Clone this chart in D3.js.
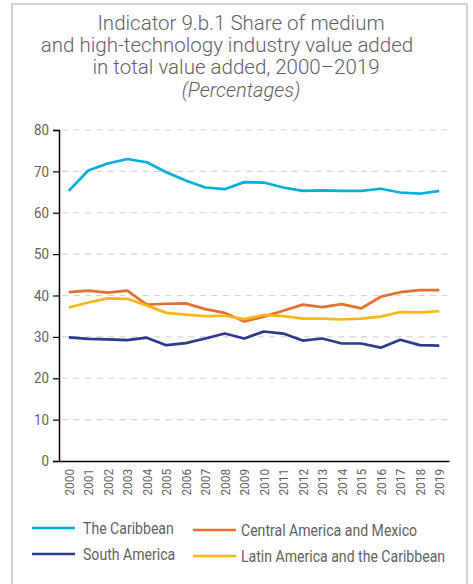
<!DOCTYPE html>
<html>
<head>
<meta charset="utf-8">
<script src="https://cdn.jsdelivr.net/npm/d3@7"></script>
<style>
  body { margin: 0; background: #fff; }
  svg text { font-family: "Roboto", sans-serif; fill: #5f5f5f; }
</style>
</head>
<body>
<div id="chart-area"></div>
<script>
// data
var years = ["2000","2001","2002","2003","2004","2005","2006","2007","2008","2009",
             "2010","2011","2012","2013","2014","2015","2016","2017","2018","2019"];
var caribbean = [65.3,70.2,71.9,73.0,72.2,69.8,67.8,66.1,65.7,67.4,67.3,66.1,65.3,65.4,65.3,65.3,65.8,64.9,64.6,65.3];
var centralAm = [40.8,41.2,40.7,41.2,37.8,38.0,38.1,36.7,35.8,33.7,34.9,36.3,37.8,37.2,37.9,36.9,39.7,40.8,41.3,41.3];
var southAm   = [29.9,29.5,29.4,29.2,29.8,28.0,28.5,29.6,30.8,29.6,31.3,30.8,29.1,29.6,28.4,28.4,27.4,29.3,28.0,27.9];
var latAm     = [37.1,38.3,39.3,39.2,37.6,35.8,35.4,35.0,35.1,34.3,35.3,35.0,34.4,34.4,34.2,34.4,34.9,36.0,35.9,36.2];
var yTicks = [0,10,20,30,40,50,60,70,80];
var titleLines = ["Indicator 9.b.1 Share of medium",
                  "and high-technology industry value added",
                  "in total value added, 2000\u20132019"];
var subtitle = "(Percentages)";

var seriesNames = ["The Caribbean","Central America and Mexico","South America","Latin America and the Caribbean"];
var seriesVals = [caribbean, centralAm, southAm, latAm];
var colors = ["#00AEDB","#E2702E","#2B3990","#FDB515"];

var width = 473, height = 584;

var svg = d3.select("#chart-area").append("svg")
    .attr("width", width)
    .attr("height", height);

// frame
svg.append("rect")
    .attr("x", 12).attr("y", 4)
    .attr("width", 455).attr("height", 600)
    .attr("fill", "none")
    .attr("stroke", "#c4c4c4")
    .attr("stroke-width", 1.5);

// title
var titleX = [241, 227, 236];
svg.selectAll(".title")
    .data(titleLines)
    .enter()
    .append("text")
    .attr("x", (d, i) => titleX[i])
    .attr("y", (d, i) => 30 + i * 21.8)
    .attr("text-anchor", "middle")
    .style("font-size", "20.5px")
    .style("font-weight", 300)
    .text(d => d);

svg.append("text")
    .attr("x", 241)
    .attr("y", 97)
    .attr("text-anchor", "middle")
    .style("font-size", "20px")
    .style("font-weight", 300)
    .style("font-style", "italic")
    .text(subtitle);

// scales
var xScale = d3.scaleBand()
    .range([59, 449])
    .domain(years);

var yScale = d3.scaleLinear()
    .range([461, 130])
    .domain([0, 80]);

// gridlines
svg.append("g")
    .selectAll("line")
    .data(yTicks.filter(d => d > 0))
    .enter()
    .append("line")
    .attr("x1", 62).attr("x2", 449)
    .attr("y1", d => yScale(d)).attr("y2", d => yScale(d))
    .attr("stroke", "#d3d3d3")
    .attr("stroke-width", 1.2)
    .attr("stroke-dasharray", "6,5.5");

// y axis
var yAxis = d3.axisLeft(yScale).tickValues(yTicks).tickSize(6).tickPadding(5);
var gy = svg.append("g")
    .attr("transform", "translate(59,0)")
    .call(yAxis);
gy.select(".domain").attr("stroke", "#000").attr("stroke-width", 1.5);
gy.selectAll(".tick line").attr("stroke", "#000").attr("stroke-width", 1.2);
gy.selectAll("text").style("font-size", "14.5px").attr("fill", "#5f5f5f")
    .attr("transform", "scale(0.92,1)");

// x axis
var xAxis = d3.axisBottom(xScale).tickSize(0).tickPadding(8);
var gx = svg.append("g")
    .attr("transform", "translate(0,461)")
    .call(xAxis);
gx.select(".domain").attr("stroke", "#000").attr("stroke-width", 1.5);
gx.selectAll("text")
    .attr("transform", "rotate(-90) scale(0.88,1)")
    .attr("x", -9)
    .attr("y", 0)
    .attr("dy", ".36em")
    .style("text-anchor", "end")
    .style("font-size", "13.5px")
    .attr("fill", "#5f5f5f");

// lines
var line = d3.line()
    .x((d, i) => xScale(years[i]) + xScale.bandwidth() / 2)
    .y(d => yScale(d));

svg.selectAll(".series")
    .data(seriesVals)
    .enter()
    .append("path")
    .attr("d", d => line(d))
    .attr("fill", "none")
    .attr("stroke", (d, i) => colors[i])
    .attr("stroke-width", 2.7)
    .attr("stroke-linejoin", "round");

// legend
var legendPos = [[32, 528], [193, 530], [32, 554], [193, 556]];
var legend = svg.selectAll(".legend")
    .data(seriesNames)
    .enter()
    .append("g")
    .attr("transform", (d, i) => "translate(" + legendPos[i][0] + "," + legendPos[i][1] + ")");

legend.append("line")
    .attr("x1", 0).attr("x2", 43)
    .attr("stroke", (d, i) => colors[i])
    .attr("stroke-width", 2.7);

legend.append("text")
    .attr("transform", (d, i) => "translate(" + (i % 2 == 0 ? 51 : 48) + ",0) scale(0.88,1)")
    .attr("dy", ".36em")
    .style("font-size", "16px")
    .text(d => d);
</script>
</body>
</html>
